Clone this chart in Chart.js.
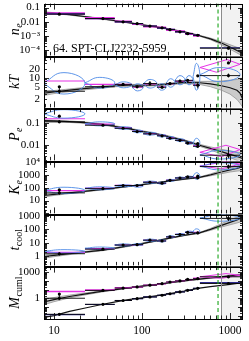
<!DOCTYPE html>
<html><head><meta charset="utf-8">
<script src="https://cdn.jsdelivr.net/npm/chart.js@4.4.1/dist/chart.umd.min.js"></script>
<style>
html,body{margin:0;padding:0;background:#fff;}
#wrap{position:relative;width:249px;height:341px;overflow:hidden;background:#fff;}
#wrap canvas{position:absolute;left:0;}
</style></head><body><div id="wrap"></div>
<script>
// ================= DATA =================
const binLo  = [7.5, 22.5, 49, 77, 103, 148, 188, 237, 308, 380, 455];
const binHi  = [22.5, 49, 77, 103, 148, 188, 237, 308, 380, 455, 1300];
const binMid = [11.5, 36, 61, 88, 123, 169, 208, 270, 330, 430, 960];
const modelX = [7.7, 10, 15, 22, 36, 50, 70, 100, 150, 200, 300, 450, 600, 800, 1000, 1200, 1300, 1400];
const xRange = [7.7, 1405];
const xTickLabels = [10, 100, 1000];
const rDashed = 731;
const rShade = 790;
const clusterName = '64. SPT-CLJ2232-5959';

// n_e
const neRange = [4.0e-5, 0.19];
const neTicks = [0.1, 0.01, 0.001, 0.0001];
const neTickText = ['0.1', '0.01', '10\u207B\u00B3', '10\u207B\u2074'];
const neModel  = [0.046, 0.040, 0.031, 0.023, 0.0155, 0.0115, 0.0085, 0.0060, 0.0041, 0.0030, 0.0019, 0.0010, 0.00060, 0.00030, 0.00016, 0.00009, 0.00007, 0.000055];
const neBandHi = [0.050, 0.043, 0.033, 0.0245, 0.0165, 0.0122, 0.0090, 0.0064, 0.0044, 0.0032, 0.0020, 0.00108, 0.00068, 0.00038, 0.00023, 0.00015, 0.00013, 0.00011];
const neBandLo = [0.042, 0.037, 0.029, 0.0215, 0.0145, 0.0108, 0.0080, 0.0056, 0.0038, 0.0028, 0.0018, 0.00092, 0.00052, 0.00023, 0.00011, 0.00006, 0.000045, 0.00003];
const neVal   = [0.034, 0.0165, 0.0097, 0.0072, 0.0048, 0.0036, 0.0027, 0.0019, 0.0014, 0.00108, 0.00013];
const neErrLo = [0.031, 0.0155, 0.0092, 0.0068, 0.0045, 0.0034, 0.0025, 0.0018, 0.0013, 0.00100, 0.000105];
const neErrHi = [0.037, 0.0175, 0.0102, 0.0076, 0.0051, 0.0038, 0.0029, 0.0020, 0.0015, 0.00116, 0.000155];
const neMag   = [0.038, 0.0175, 0.0102, 0.0068, 0.0045, 0.0037, 0.0026, 0.0020, 0.00135, 0.00102, null];
const neNavy  = [0.035, 0.016, 0.0095, 0.0071, 0.0049, 0.0035, 0.0028, 0.0019, 0.0014, 0.0011, 0.00014];

// kT
const kTRange = [1.1, 50];
const kTTicks = [2, 5, 10, 20];
const kTTickText = ['2', '5', '10', '20'];
const kTModel  = [3.2, 3.5, 4.0, 4.5, 5.1, 5.6, 5.8, 5.8, 6.0, 6.3, 7.2, 7.0, 6.4, 5.6, 4.8, 4.0, 3.2, 2.0];
const kTBandHi = [3.7, 3.9, 4.4, 4.9, 5.5, 6.0, 6.2, 6.2, 6.4, 6.8, 7.8, 7.8, 7.8, 8.0, 8.5, 9.0, 9.5, 10];
const kTBandLo = [2.7, 3.1, 3.6, 4.1, 4.7, 5.2, 5.4, 5.4, 5.6, 5.9, 6.6, 6.2, 5.2, 4.0, 3.0, 2.0, 1.5, 1.1];
const kTVal   = [3.7, 5.2, 6.2, 5.2, 6.6, 5.0, 6.6, 8.0, 8.4, 5.8, 12];
const kTErrLo = [3.0, 4.6, 5.6, 4.6, 5.6, 4.5, 6.0, 7.3, 7.6, 4.6, 10.5];
const kTErrHi = [5.2, 6.0, 6.8, 5.8, 8.0, 5.6, 7.3, 8.8, 9.3, 7.2, 14];
const kTAlt   = [5.2, null, null, null, null, null, null, null, null, 11.8, 31];
const kTMag   = [8.0, 6.2, 6.2, 5.0, 6.4, 5.2, 6.6, 7.8, 8.2, 6.0, null];
const kTBlueMin = [3.0, 4.7, 4.8, 3.8, 4.7, 4.0, 5.0, 6.0, 6.0, 4.0, 7.6];
const kTBlueMax = [15, 10.5, 7.5, 6.5, 9.0, 6.5, 9.5, 12, 12, 30, 22];
const kTDiaX = [455, 925, 1300, 700, 455];
const kTDiaY = [22, 40, 28, 15.5, 22];

// P_e
const PeRange = [0.0019, 0.47];
const PeTicks = [0.1, 0.01];
const PeTickText = ['0.1', '0.01'];
const PeModel  = [0.130, 0.126, 0.117, 0.106, 0.087, 0.070, 0.056, 0.042, 0.031, 0.024, 0.016, 0.0095, 0.0068, 0.0048, 0.0036, 0.0029, 0.0026, 0.0023];
const PeBandHi = [0.142, 0.136, 0.126, 0.114, 0.093, 0.075, 0.060, 0.045, 0.033, 0.026, 0.0172, 0.0105, 0.0080, 0.0062, 0.0052, 0.0046, 0.0044, 0.0042];
const PeBandLo = [0.118, 0.116, 0.108, 0.098, 0.081, 0.065, 0.052, 0.039, 0.029, 0.022, 0.0148, 0.0086, 0.0058, 0.0037, 0.0026, 0.0019, 0.0016, 0.0013];
const PeVal   = [0.115, 0.080, 0.058, 0.041, 0.032, 0.026, 0.020, 0.016, 0.012, 0.0085, 0.0033];
const PeErrLo = [0.105, 0.074, 0.054, 0.038, 0.029, 0.024, 0.0185, 0.0148, 0.011, 0.0075, 0.0024];
const PeErrHi = [0.135, 0.087, 0.062, 0.044, 0.035, 0.028, 0.0215, 0.0172, 0.013, 0.0098, 0.0078];
const PeAlt   = [0.21, null, null, null, null, null, null, null, null, 0.0115, null];
const PeMag   = [0.16, 0.090, 0.062, 0.043, 0.033, 0.027, 0.021, 0.016, 0.012, 0.0092, null];
const PeBlueMin = [0.17, 0.075, 0.052, 0.036, 0.028, 0.023, 0.018, 0.014, 0.0105, 0.0075, 0.0022];
const PeBlueMax = [0.42, 0.115, 0.068, 0.048, 0.038, 0.030, 0.024, 0.019, 0.014, 0.020, 0.0055];
const PeDiaX = [455, 900, 1300, 800, 455];
const PeDiaY = [0.0045, 0.0095, 0.0060, 0.0028, 0.0045];

// K_e
const KRange = [1, 11000];
const KTicks = [10, 100, 1000, 10000];
const KTickText = ['10', '100', '1000', '10\u2074'];
const KModel  = [25, 30, 40, 52, 75, 98, 130, 175, 250, 330, 470, 650, 1000, 1700, 2500, 3300, 3800, 4200];
const KBandHi = [32, 36, 45, 57, 81, 105, 139, 186, 265, 350, 500, 700, 1200, 2300, 3600, 5000, 6000, 7000];
const KBandLo = [19, 25, 35, 47, 69, 91, 121, 164, 235, 310, 440, 600, 850, 1250, 1700, 2000, 2100, 2200];
const KVal   = [40, 85, 150, 150, 270, 230, 380, 580, 700, 600, 4500];
const KErrLo = [30, 72, 135, 132, 240, 205, 340, 520, 620, 480, 3000];
const KErrHi = [55, 100, 168, 170, 305, 260, 425, 640, 790, 760, 6500];
const KAlt   = [70, null, null, null, null, null, null, null, null, 800, null];
const KMag   = [60, 95, 155, 145, 280, 220, 390, 590, 690, 650, null];
const KBlueMin = [35, 70, 120, 110, 220, 190, 320, 500, 600, 450, 2500];
const KBlueMax = [110, 120, 170, 170, 330, 270, 450, 680, 800, 1500, 9000];
const KDiaX = [455, 900, 1300, 800, 455];
const KDiaY = [5000, 11000, 7000, 3000, 5000];

// t_cool
const tRange = [0.22, 1240];
const tTicks = [1, 10, 100, 1000];
const tTickText = ['1', '10', '100', '1000'];
const tModel  = [1.0, 1.2, 1.6, 2.1, 3.0, 4.2, 6.0, 9.0, 15, 22, 36, 55, 100, 200, 330, 500, 650, 800];
const tBandHi = [1.3, 1.45, 1.85, 2.35, 3.3, 4.6, 6.5, 9.7, 16, 23.5, 38, 59, 118, 270, 500, 800, 1000, 1240];
const tBandLo = [0.75, 0.97, 1.38, 1.88, 2.7, 3.8, 5.5, 8.3, 14, 20.5, 34, 51, 85, 150, 220, 300, 350, 400];
const tVal   = [1.6, 3.5, 7.0, 7.5, 16, 14, 28, 42, 60, 55, 650];
const tErrLo = [1.2, 3.0, 6.3, 6.7, 14, 12.5, 25, 37, 52, 44, 420];
const tErrHi = [2.0, 4.0, 7.8, 8.4, 18, 15.5, 31, 47, 70, 68, 1000];
const tMag   = [2.0, 3.8, 7.2, 7.3, 16, 14, 28, 43, 62, 60, null];
const tBlueMin = [1.8, 3.3, 6.0, 6.5, 13, 12, 24, 37, 55, 50, 400];
const tBlueMax = [3.2, 5.0, 8.5, 9.0, 19, 17, 34, 50, 75, 110, 1200];

// M_cuml
const MRange = [0.004, 4500];
const MTicks = [1, 1000];
const MTickText = ['1', '1000'];
const MgModel = [0.006, 0.010, 0.030, 0.070, 0.20, 0.38, 0.70, 1.1, 2.0, 3.2, 6.5, 15, 22, 30, 40, 50, 56, 62];
const MgVal   = [0.014, 0.2, 0.55, 0.9, 1.4, 2.2, 3.3, 5.3, 8.3, 14, 50];
const MgStep  = [0.013, 0.19, 0.55, 0.9, 1.4, 2.2, 3.3, 5.3, 8.3, 14, 65];
const MtModel  = [0.38, 0.7, 1.6, 3.0, 6.5, 10, 16, 25, 40, 60, 100, 160, 220, 300, 380, 440, 470, 500];
const MtBandHi = [0.8, 1.2, 2.3, 3.9, 7.6, 11.3, 17.5, 27, 43, 64, 107, 172, 245, 345, 450, 540, 590, 640];
const MtBandLo = [0.18, 0.4, 1.1, 2.3, 5.5, 8.8, 14.5, 23, 37, 56, 93, 148, 195, 255, 310, 350, 370, 390];
const MtVal   = [1.0, 8, 15, 20, 32, 48, 75, 100, 150, 180, 300];
const MtErrLo = [0.6, 7, 13.5, 18, 29, 44, 69, 92, 136, 160, 240];
const MtErrHi = [3.5, 9.2, 16.5, 22, 35, 52, 81, 108, 165, 205, 380];
const MtAlt   = [3.0, null, null, null, null, null, null, null, null, null, null];
const MtMag   = [6, 9, 16, 20, 33, 48, 72, 100, 140, 200, null];
const MtDiaX = [455, 900, 1300, 800, 455];
const MtDiaY = [300, 700, 450, 200, 300];

// ================= helpers =================
const MAG = '#e633e6', BLUE = '#4d8ae6', NAVY = '#2e2a8e', GREEN = '#17a317';
function P(xs, ys) { return xs.map((x, i) => ({x, y: ys[i]})); }
function stepPts(v) {
  const o = [];
  v.forEach((y, i) => { if (y == null) return;
    o.push({x: binLo[i], y}, {x: binHi[i], y}, {x: binMid[i], y: null}); });
  return o;
}
function errPts(v, lo, hi) {
  const o = [];
  v.forEach((y, i) => {
    if (y == null) return;
    o.push({x: binLo[i], y}, {x: binHi[i], y}, {x: binMid[i], y: null});
    if (lo && lo[i] != null) o.push({x: binMid[i], y: lo[i]}, {x: binMid[i], y: hi[i]}, {x: binMid[i], y: null});
  });
  return o;
}
function ellPts(mn, mx) {
  const o = [];
  mn.forEach((a, i) => {
    const b = mx[i]; if (a == null) return;
    const g = Math.sqrt(a * b), xm = Math.sqrt(binLo[i] * binHi[i]);
    o.push({x: binLo[i], y: g}, {x: xm, y: b}, {x: binHi[i], y: g}, {x: xm, y: a}, {x: binLo[i], y: g}, {x: xm, y: null});
  });
  return o;
}
function ln(data, color, w, extra) {
  return Object.assign({data, borderColor: color, borderWidth: w, pointRadius: 0, fill: false, tension: 0, clip: 0}, extra || {});
}
function band(hi, lo) {
  return [ln(P(modelX, hi), '#8a8a8a', 0.7, {fill: '+1', backgroundColor: 'rgba(150,150,150,0.42)', order: 7}),
          ln(P(modelX, lo), '#8a8a8a', 0.7, {order: 7})];
}
function dots(v, color, r) {
  return {data: P(binMid, v), showLine: false, pointRadius: r || 1.6, pointBackgroundColor: color || '#000', pointBorderWidth: 0, order: 1, clip: 0};
}

const panels = [
  {sym: ['n', 'e'], range: neRange, ticks: neTicks, tickText: neTickText, note: true,
   ds: () => [...band(neBandHi, neBandLo), ln(P(modelX, neModel), '#111', 1.2, {order: 5}),
     ln(stepPts(neMag), MAG, 2.2, {order: 4}), ln(stepPts(neNavy), NAVY, 1.2, {order: 3}),
     ln(errPts(neVal, neErrLo, neErrHi), '#000', 0.9, {order: 1}), dots(neVal)]},
  {sym: ['kT', ''], range: kTRange, ticks: kTTicks, tickText: kTTickText,
   ds: () => [...band(kTBandHi, kTBandLo), ln(P(modelX, kTModel), '#111', 1.2, {order: 5}),
     ln(ellPts(kTBlueMin, kTBlueMax), BLUE, 0.9, {tension: 0.5, order: 3}),
     ln(stepPts(kTMag), MAG, 1.2, {order: 4}), ln(P(kTDiaX, kTDiaY), MAG, 1, {order: 4}),
     ln(errPts(kTVal, kTErrLo, kTErrHi), '#000', 0.9, {order: 1}), dots(kTVal), dots(kTAlt)]},
  {sym: ['P', 'e'], range: PeRange, ticks: PeTicks, tickText: PeTickText,
   ds: () => [...band(PeBandHi, PeBandLo), ln(P(modelX, PeModel), '#111', 1.2, {order: 5}),
     ln(ellPts(PeBlueMin, PeBlueMax), BLUE, 0.9, {tension: 0.5, order: 3}),
     ln(stepPts(PeMag), MAG, 1.2, {order: 4}), ln(P(PeDiaX, PeDiaY), MAG, 1, {order: 4}),
     ln(errPts(PeVal, PeErrLo, PeErrHi), '#000', 0.9, {order: 1}), dots(PeVal), dots(PeAlt)]},
  {sym: ['K', 'e'], range: KRange, ticks: KTicks, tickText: KTickText,
   ds: () => [...band(KBandHi, KBandLo), ln(P(modelX, KModel), '#111', 1.2, {order: 5}),
     ln(ellPts(KBlueMin, KBlueMax), BLUE, 0.9, {tension: 0.5, order: 3}),
     ln(stepPts(KMag), MAG, 1.2, {order: 4}), ln(P(KDiaX, KDiaY), MAG, 1, {order: 4}),
     ln(errPts(KVal, KErrLo, KErrHi), '#000', 0.9, {order: 1}), dots(KVal), dots(KAlt)]},
  {sym: ['t', 'cool'], range: tRange, ticks: tTicks, tickText: tTickText,
   ds: () => [...band(tBandHi, tBandLo), ln(P(modelX, tModel), '#111', 1.2, {order: 5}),
     ln(ellPts(tBlueMin, tBlueMax), BLUE, 0.9, {tension: 0.5, order: 3}),
     ln(stepPts(tMag), MAG, 1.2, {order: 4}),
     ln(errPts(tVal, tErrLo, tErrHi), '#000', 0.9, {order: 1}), dots(tVal)]},
  {sym: ['M', 'cuml'], range: MRange, ticks: MTicks, tickText: MTickText,
   ds: () => [...band(MtBandHi, MtBandLo), ln(P(modelX, MtModel), '#111', 1.2, {order: 5}),
     ln(P(modelX, MgModel), '#111', 1.2, {order: 5}),
     ln(stepPts(MtMag), MAG, 1.4, {order: 4}), ln(P(MtDiaX, MtDiaY), MAG, 1, {order: 4}),
     ln(stepPts(MgStep), NAVY, 1.2, {order: 3}),
     ln(errPts(MtVal, MtErrLo, MtErrHi), '#000', 0.9, {order: 1}), dots(MtVal), dots(MtAlt),
     ln(errPts(MgVal, null, null), '#000', 0.9, {order: 1}), dots(MgVal)]}
];

function logTicks(lo, hi) {
  const out = [];
  for (let d = Math.floor(Math.log10(lo)) - 1; d <= Math.ceil(Math.log10(hi)); d++) {
    for (let m = 1; m <= 9; m++) {
      const v = m * Math.pow(10, d);
      if (v >= lo * 0.9999 && v <= hi * 1.0001) out.push([v, m === 1]);
    }
  }
  return out;
}

const SERIF = "'Liberation Serif', 'DejaVu Serif', serif";
Chart.defaults.font.family = SERIF;
Chart.defaults.color = '#000';

const decor = {
  id: 'decor',
  beforeDatasetsDraw(chart) {
    const {ctx, chartArea: a, scales: {x}} = chart;
    const xs = Math.round(x.getPixelForValue(rShade));
    ctx.save();
    ctx.fillStyle = '#f2f2f2';
    ctx.fillRect(xs, a.top, a.right - xs, a.bottom - a.top);
    ctx.restore();
  },
  afterDatasetsDraw(chart, args, opts) {
    const {ctx, chartArea: a, scales: {x, y}} = chart;
    const p = panels[opts.k];
    ctx.save();
    const xs = Math.round(x.getPixelForValue(rShade)) + 0.5;
    ctx.strokeStyle = '#8c8c8c'; ctx.lineWidth = 1;
    ctx.beginPath(); ctx.moveTo(xs, a.top); ctx.lineTo(xs, a.bottom); ctx.stroke();
    ctx.strokeStyle = '#111'; ctx.lineWidth = 0.9;
    ctx.beginPath();
    logTicks(xRange[0], xRange[1]).forEach(([v, major]) => {
      const px = Math.round(x.getPixelForValue(v)) + 0.5, L = major ? 6 : 3.5;
      ctx.moveTo(px, a.bottom); ctx.lineTo(px, a.bottom - L);
      ctx.moveTo(px, a.top); ctx.lineTo(px, a.top + L);
    });
    logTicks(p.range[0], p.range[1]).forEach(([v, major]) => {
      const py = Math.round(y.getPixelForValue(v)) + 0.5, L = major ? 5 : 3;
      ctx.moveTo(a.left, py); ctx.lineTo(a.left + L, py);
      ctx.moveTo(a.right, py); ctx.lineTo(a.right - L, py);
    });
    ctx.stroke();
    ctx.strokeStyle = '#000'; ctx.lineWidth = 1;
    ctx.strokeRect(Math.round(a.left) + 0.5, Math.round(a.top) + 0.5, Math.round(a.right - a.left) - 1, Math.round(a.bottom - a.top));
    // axis title
    ctx.fillStyle = '#000';
    ctx.translate(19, (a.top + a.bottom) / 2);
    ctx.rotate(-Math.PI / 2);
    const mainF = 'italic 14px ' + SERIF;
    const subF = (p.sym[1].length > 1 ? '' : 'italic ') + '10px ' + SERIF;
    ctx.font = mainF; const w1 = ctx.measureText(p.sym[0]).width;
    ctx.font = subF; const w2 = ctx.measureText(p.sym[1]).width;
    const sx = -(w1 + w2) / 2;
    ctx.textBaseline = 'alphabetic'; ctx.textAlign = 'left';
    ctx.font = mainF; ctx.fillText(p.sym[0], sx, 0);
    ctx.font = subF; ctx.fillText(p.sym[1], sx + w1 + 0.5, 3);
    ctx.restore();
    if (p.note) {
      ctx.save();
      ctx.fillStyle = '#000';
      ctx.font = '12px ' + SERIF;
      ctx.textBaseline = 'alphabetic';
      ctx.fillText(clusterName, a.left + 9, a.bottom - 3);
      ctx.restore();
    }
  }
};

const wrap = document.getElementById('wrap');
const tops = [3, 56, 108, 161, 214, 266, 319];
panels.forEach((p, k) => {
  const last = k === panels.length - 1;
  const ph = tops[k + 1] - tops[k];
  const padT = 10, padB = last ? 2 : 10, xh = last ? 20 : 0;
  const cv = document.createElement('canvas');
  const H = padT + ph + xh + padB;
  cv.width = 249; cv.height = H;
  cv.style.width = '249px'; cv.style.height = H + 'px';
  cv.style.top = (tops[k] - padT) + 'px';
  wrap.appendChild(cv);
  const datasets = [
    ln(P([rDashed, rDashed], [p.range[0], p.range[1]]), GREEN, 1.1, {borderDash: [4, 3], order: 0}),
    ...p.ds()
  ];
  const xScale = {
    type: 'logarithmic', min: xRange[0], max: xRange[1], display: last,
    grid: {display: false, drawTicks: false}, border: {display: false},
    afterBuildTicks: s => { s.ticks = xTickLabels.map(v => ({value: v})); },
    ticks: {autoSkip: false, maxRotation: 0, padding: 5, color: '#000', font: {size: 11.5}, callback: (v, i) => String(xTickLabels[i])}
  };
  if (last) xScale.afterFit = s => { s.height = xh; };
  new Chart(cv, {
    type: 'line',
    data: {datasets},
    plugins: [decor],
    options: {
      responsive: false, animation: false, events: [],
      layout: {padding: {left: 0, right: 6, top: padT, bottom: padB}},
      plugins: {legend: {display: false}, tooltip: {enabled: false}, decor: {k}},
      scales: {
        x: xScale,
        y: {
          type: 'logarithmic', min: p.range[0], max: p.range[1],
          grid: {display: false, drawTicks: false}, border: {display: false},
          afterBuildTicks: s => { s.ticks = p.ticks.map(v => ({value: v})); },
          afterFit: s => { s.width = 44; },
          ticks: {autoSkip: false, padding: 4, color: '#000', font: {size: 11}, callback: (v, i) => p.tickText[i]}
        }
      }
    }
  });
});
</script>
</body></html>
